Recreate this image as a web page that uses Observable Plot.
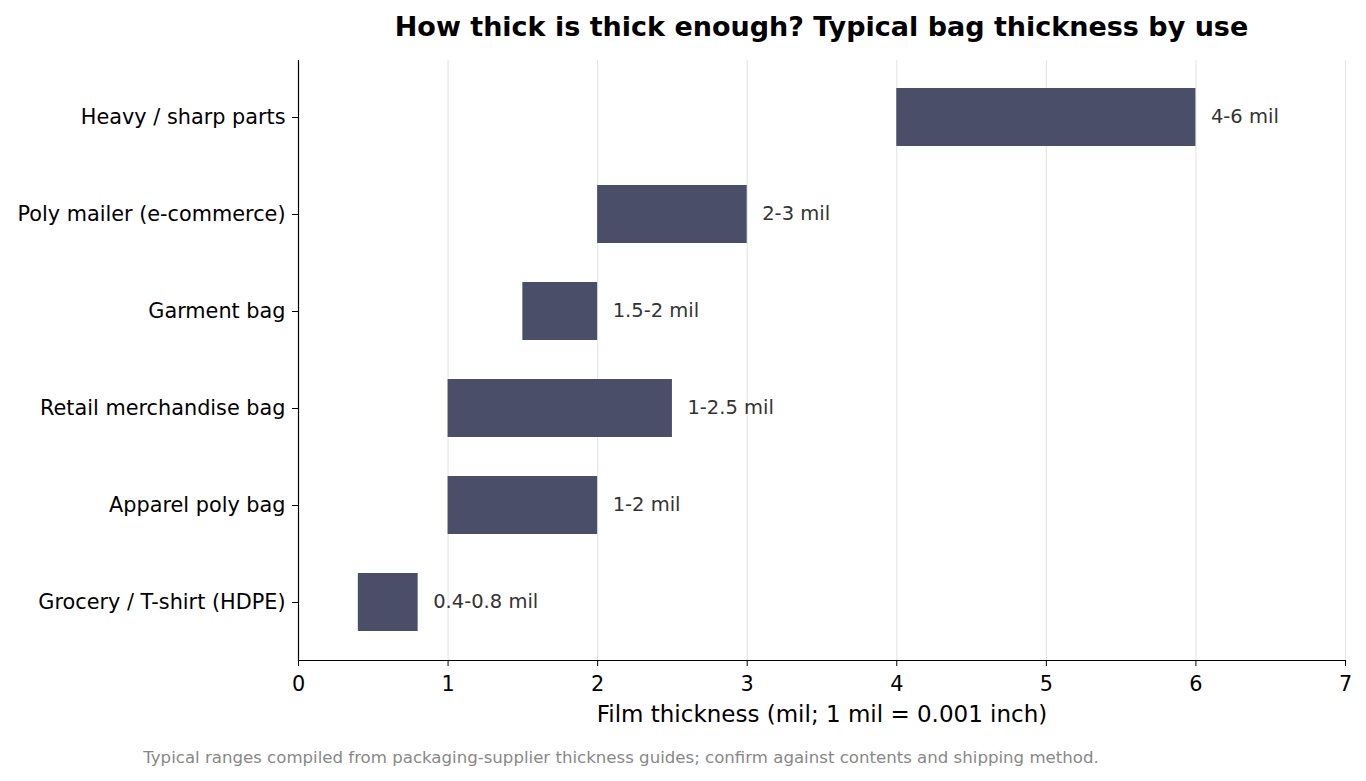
<!DOCTYPE html>
<html><head><meta charset="utf-8">
<script src="https://cdn.jsdelivr.net/npm/d3@7"></script>
<script src="https://cdn.jsdelivr.net/npm/@observablehq/plot@0.6"></script>
<style>
body{margin:0;background:#fff;font-family:"DejaVu Sans",sans-serif;}
#wrap{position:relative;width:1366px;height:781px;}
#title{position:absolute;top:10px;left:298px;width:1047px;text-align:center;font-weight:bold;font-size:27px;line-height:34px;color:#000;white-space:nowrap;}
#chart{position:absolute;top:50px;left:0;}
#caption{position:absolute;top:747px;left:0;width:1242px;text-align:center;font-size:16.6px;line-height:22px;color:#888;white-space:nowrap;}
</style></head>
<body><div id="wrap">
<div id="title">How thick is thick enough? Typical bag thickness by use</div>
<div id="chart"></div>
<div id="caption">Typical ranges compiled from packaging-supplier thickness guides; confirm against contents and shipping method.</div>
</div>
<script>
const categories = ["Heavy / sharp parts","Poly mailer (e-commerce)","Garment bag","Retail merchandise bag","Apparel poly bag","Grocery / T-shirt (HDPE)"];
const lowMil = [4, 2, 1.5, 1, 1, 0.4];
const highMil = [6, 3, 2, 2.5, 2, 0.8];
const rangeLabels = ["4-6 mil","2-3 mil","1.5-2 mil","1-2.5 mil","1-2 mil","0.4-0.8 mil"];
const xTicks = [0,1,2,3,4,5,6,7];
const xLabel = "Film thickness (mil; 1 mil = 0.001 inch)";

const data = categories.map((c,i)=>({use:c, lo:lowMil[i], hi:highMil[i], label:rangeLabels[i]}));

const plot = Plot.plot({
  width:1366, height:680,
  marginLeft:298, marginRight:21, marginTop:10, marginBottom:70,
  style:{fontFamily:"DejaVu Sans", fontSize:"20.8px", color:"#000", background:"#fff"},
  x:{domain:[0,7], label:null},
  y:{domain:categories, paddingInner:0.4, paddingOuter:0.274, label:null},
  marks:[
    Plot.gridX(xTicks, {stroke:"#e5e5e5", strokeOpacity:1, strokeWidth:1.1}),
    Plot.barX(data, {x1:"lo", x2:"hi", y:"use", fill:"#4a4e69"}),
    Plot.text(data, {x:"hi", y:"use", text:"label", dx:15, dy:-1, textAnchor:"start", fill:"#333", fontSize:19.5}),
    Plot.axisX({ticks:xTicks, tickFormat:d3.format("d"), tickSize:6, tickPadding:10, label:null, fontSize:20.8}),
    Plot.axisY({tickSize:6, tickPadding:7, label:null, fontSize:20.8}),
    Plot.frame({anchor:"left", stroke:"#000", strokeWidth:1.2}),
    Plot.frame({anchor:"bottom", stroke:"#000", strokeWidth:1.2}),
    Plot.text([xLabel], {frameAnchor:"bottom", dy:61, fontSize:23, fill:"#000"})
  ]
});
document.getElementById("chart").appendChild(plot);
</script>
</body></html>
